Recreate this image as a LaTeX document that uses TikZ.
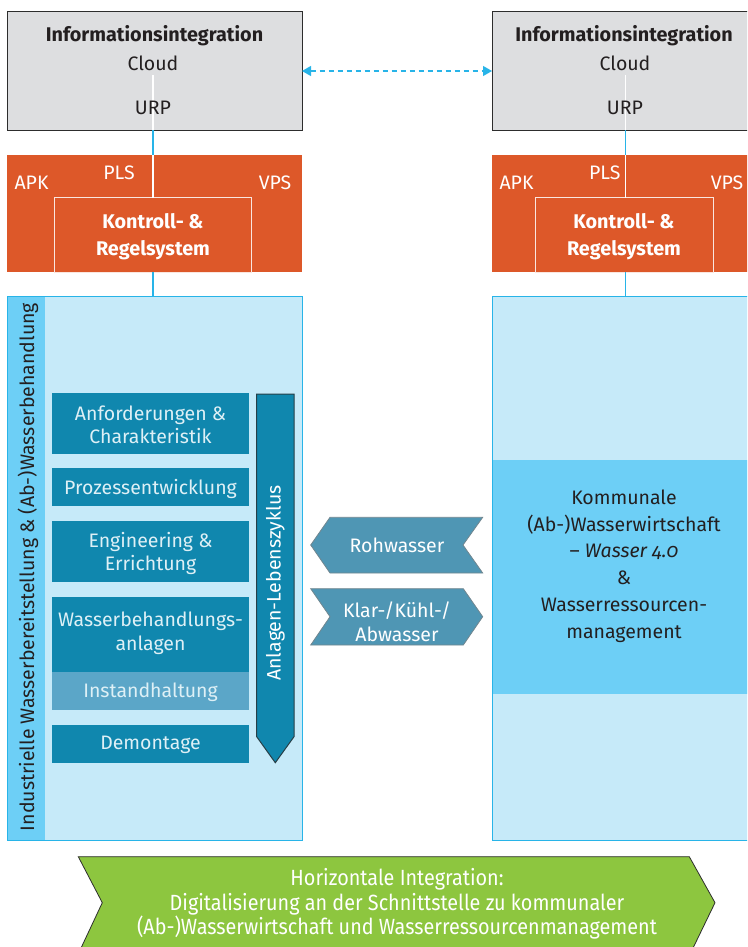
\documentclass[tikz,border=0pt]{standalone}
\usepackage{fontspec}
\setmainfont{Fira Sans}
\newfontfamily\condfont[FakeStretch=0.9]{Fira Sans}
\usetikzlibrary{arrows.meta}
\definecolor{grayfill}{RGB}{221,222,224}
\definecolor{grayline}{RGB}{45,45,45}
\definecolor{orangefill}{RGB}{221,88,41}
\definecolor{cyanline}{RGB}{40,180,232}
\definecolor{lightblue}{RGB}{198,234,249}
\definecolor{midblue}{RGB}{109,207,246}
\definecolor{teal}{RGB}{16,135,174}
\definecolor{tealpale}{RGB}{91,166,200}
\definecolor{arrowblue}{RGB}{79,150,180}
\definecolor{greenfill}{RGB}{141,198,63}
\definecolor{darktext}{RGB}{35,31,32}
\definecolor{paletext}{RGB}{222,240,246}
\begin{document}
\begin{tikzpicture}[x=1pt,y=-1pt,
  every node/.style={inner sep=0pt,outer sep=0pt},
  txt/.style={font=\fontsize{19.5}{23.5}\selectfont,align=center},
  boldtxt/.style={font=\fontsize{19.8}{26.5}\selectfont\bfseries,align=center},
  boxnode/.style={draw=none,rectangle,anchor=north west},
  tealbox/.style={fill=teal},
  paletxt/.style={txt,text=paletext},
  conn/.style={cyanline,line width=1.2pt},
  whiteconn/.style={white,line width=1.2pt},
  flowarrow/.style={fill=arrowblue,draw=gray!70!arrowblue,line width=0.8pt}]
\useasboundingbox (0,0) rectangle (747,947);
\clip (0,0) rectangle (747,947);

% ---------- left column ----------
\node[boxnode,fill=grayfill,draw=grayline,line width=1pt,minimum width=295,minimum height=119] (infoL) at (7,11.5) {};
\node[boldtxt,text=darktext] (infoLt) at (154.5,36) {Informationsintegration};
\node[txt,text=darktext] (cloudL) at (153,63) {Cloud};
\coordinate (lineLtop) at (153,75);
\draw[whiteconn] (lineLtop) -- (lineLtop |- infoL.south);
\node[txt,text=darktext] (urpL) at (153,108) {URP};

\node[boxnode,fill=orangefill,minimum width=295,minimum height=117] (orangeL) at (7,155) {};
\node[boxnode,fill=orangefill,draw=white!85!orangefill,line width=1pt,minimum width=197,minimum height=74.5] (kontrL) at (54.5,197.5) {};
\node[txt,text=white] (apkL) at (31.5,183) {APK};
\node[txt,text=white] (plsL) at (119,173) {PLS};
\node[txt,text=white] (vpsL) at (275,183) {VPS};
\node[boldtxt,text=white] (kontrLt) at (153,236.5) {Kontroll- \&\\Regelsystem};

\draw[conn] (lineLtop |- infoL.south) -- (lineLtop |- orangeL.north);
\draw[whiteconn] (lineLtop |- orangeL.north) -- (lineLtop |- kontrL.north);

\node[boxnode,fill=lightblue,draw=cyanline,line width=1pt,minimum width=295,minimum height=544] (blueL) at (7,296) {};
\fill[midblue] (7.5,296.5) rectangle (45,839.5);
\draw[cyanline,line width=1pt] (7,296) rectangle (302,840);
\draw[conn] (lineLtop |- kontrL.south) -- (lineLtop |- blueL.north);
\node[txt,text=darktext,rotate=90] (stripL) at (28,567) {Industrielle Wasserbereitstellung \& (Ab-)Wasserbehandlung};

\node[boxnode,tealbox,minimum width=196.5,minimum height=60.5] (b1) at (52.3,393.3) {};
\node[paletxt] (b1t) at (150.5,425) {Anforderungen \&\\Charakteristik};
\node[boxnode,tealbox,minimum width=196.5,minimum height=37.5] (b2) at (52.3,468.3) {};
\node[paletxt] (b2t) at (150.5,489) {Prozessentwicklung};
\node[boxnode,tealbox,minimum width=196.5,minimum height=60.5] (b3) at (52.3,521) {};
\node[paletxt] (b3t) at (150.5,553.5) {Engineering \&\\Errichtung};
\node[boxnode,tealbox,minimum width=196.5,minimum height=74.5] (b4) at (52.3,597.3) {};
\node[paletxt] (b4t) at (150.5,633.5) {Wasserbehandlungs-\\anlagen};
\node[boxnode,fill=tealpale,minimum width=196.5,minimum height=38] (b5) at (52.3,671.7) {};
\node[paletxt] (b5t) at (150.5,692.5) {Instandhaltung};
\node[boxnode,tealbox,minimum width=196.5,minimum height=37.5] (b6) at (52.3,725.3) {};
\node[paletxt] (b6t) at (150.5,744.5) {Demontage};

% lifecycle arrow
\draw[fill=teal,draw=grayline!80!teal,line width=1pt]
  (256.7,394) -- (294,394) -- (294,736.7) -- (275.3,762.7) -- (256.7,736.7) -- cycle;
\node[txt,text=white,rotate=90] (life) at (275.5,583) {Anlagen-Lebenszyklus};

% ---------- right column ----------
\node[boxnode,fill=grayfill,draw=grayline,line width=1pt,minimum width=280,minimum height=119] (infoR) at (492,11.5) {};
\node[boldtxt,text=darktext] (infoRt) at (624,36) {Informationsintegration};
\node[txt,text=darktext] (cloudR) at (625,63) {Cloud};
\coordinate (lineRtop) at (625.5,75);
\draw[whiteconn] (lineRtop) -- (lineRtop |- infoR.south);
\node[txt,text=darktext] (urpR) at (625,108) {URP};

\node[boxnode,fill=orangefill,minimum width=280,minimum height=117] (orangeR) at (492,155) {};
\node[boxnode,fill=orangefill,draw=white!85!orangefill,line width=1pt,minimum width=178,minimum height=74.5] (kontrR) at (535,197.5) {};
\node[txt,text=white] (apkR) at (516.5,183) {APK};
\node[txt,text=white] (plsR) at (604.7,173) {PLS};
\node[txt,text=white] (vpsR) at (727,183) {VPS};
\node[boldtxt,text=white] (kontrRt) at (624,236.5) {Kontroll- \&\\Regelsystem};

\draw[conn] (lineRtop |- infoR.south) -- (lineRtop |- orangeR.north);
\draw[whiteconn] (lineRtop |- orangeR.north) -- (lineRtop |- kontrR.north);

\node[boxnode,fill=lightblue,draw=cyanline,line width=1pt,minimum width=280,minimum height=544] (blueR) at (492,296) {};
\fill[midblue] (492,460) rectangle (760,694);
\draw[cyanline,line width=1pt] (492,460) -- (492,694);
\draw[conn] (lineRtop |- kontrR.south) -- (lineRtop |- blueR.north);
\node[txt,text=darktext,font=\fontsize{19.5}{26.8}\selectfont] (komm) at (624,566) {Kommunale\\(Ab-)Wasserwirtschaft\\– \textit{\addfontfeatures{Numbers=OldStyle}Wasser 4.0}\\\&\\Wasserressourcen-\\management};

% ---------- info integration link ----------
\draw[cyanline,line width=1.3pt,dash pattern=on 5pt off 4pt,{Triangle[length=9pt,width=10pt]}-{Triangle[length=9pt,width=10pt]}]
  (infoL.east |- cloudL.center) ++(0,8) coordinate (dl) -- (infoR.west |- dl);

% ---------- water flows ----------
\draw[flowarrow]
  (310.7,545) -- (330,517.3) -- (482.7,517.3) -- (463,545) -- (482.7,573) -- (330,573) -- cycle;
\node[txt,text=white] (roh) at (397,545) {Rohwasser};
\draw[flowarrow]
  (310.7,588.7) -- (463.3,588.7) -- (482.7,616.7) -- (463.3,645) -- (310.7,645) -- (330,616.7) -- cycle;
\node[txt,text=white] (klar) at (397,621.5) {Klar-/Kühl-/\\Abwasser};

% ---------- horizontal integration ----------
\draw[fill=greenfill,draw=grayline,line width=0.8pt]
  (78.3,856.7) -- (689.3,856.7) -- (715,902.7) -- (692.7,948.7) -- (80.7,948.7) -- (102.3,902.7) -- cycle;
\node[align=center,text=white,font=\condfont\fontsize{22}{24.5}\selectfont] (hint) at (397,904) {Horizontale Integration:\\Digitalisierung an der Schnittstelle zu kommunaler\\(Ab-)Wasserwirtschaft und Wasserressourcenmanagement};
\end{tikzpicture}
\end{document}
